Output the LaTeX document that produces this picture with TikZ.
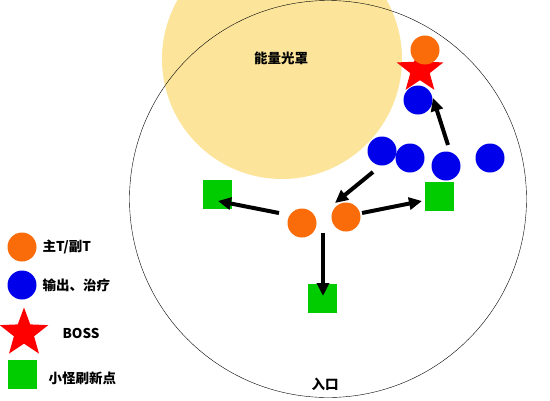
\documentclass[tikz,border=0pt]{standalone}
\usepackage{fontspec}
\setmainfont{Noto Sans CJK SC}
\usetikzlibrary{shapes.geometric,arrows.meta}
\definecolor{orangeT}{RGB}{250,108,10}
\definecolor{blueD}{RGB}{0,0,235}
\definecolor{greenS}{RGB}{0,204,0}
\definecolor{shield}{RGB}{252,229,155}

\begin{document}
\begin{tikzpicture}[x=1pt,y=-1pt,
	tank/.style={circle,fill=orangeT,minimum size=29pt,inner sep=0pt},
	dps/.style={circle,fill=blueD,minimum size=29pt,inner sep=0pt},
	boss/.style={star,star points=5,star point ratio=2.4,fill=red,minimum size=49pt,inner sep=0pt},
	spawn/.style={rectangle,fill=greenS,minimum size=29pt,inner sep=0pt},
	txt/.style={font=\bfseries\fontsize{13.5}{15}\selectfont},
	go/.style={line width=4pt,-{Triangle[length=13pt,width=12pt]}}]
		\clip (0,0) rectangle (550,400) ;
		\fill[white] (0,0) rectangle (550,400) ;

		\fill[shield] (282,59) circle (120) ;
		\draw (328,199) circle (198.5) ;
		\draw (281,58) node[txt] (shieldtext) {能量光罩} ;
		\draw (325,384) node[txt] (entry) {入口} ;

		\draw (420,70) node[boss] (boss) {} ;
		\draw (425,50) node[tank] (tankC) {} ;
		\draw (418,100) node[dps] (dpsA) {} ;
		\draw (382,151) node[dps] (dpsB) {} ;
		\draw (410,158) node[dps] (dpsC) {} ;
		\draw (446,166) node[dps] (dpsD) {} ;
		\draw (490,158) node[dps] (dpsE) {} ;
		\draw (302,223) node[tank] (tankA) {} ;
		\draw (346,217) node[tank] (tankB) {} ;

		\draw (217,194) node[spawn] (spawnL) {} ;
		\draw (439,196) node[spawn] (spawnR) {} ;
		\draw (322,298) node[spawn] (spawnB) {} ;

		\coordinate (goLs) at (279,213) ;
		\coordinate (goLe) at (218,201) ;
		\coordinate (goRs) at (362,213) ;
		\coordinate (goRe) at (422,201) ;
		\coordinate (goMs) at (373,172) ;
		\coordinate (goMe) at (335,203) ;
		\coordinate (goUs) at (448,145) ;
		\coordinate (goUe) at (433,98) ;
		\coordinate (goDs) at (323,233) ;
		\coordinate (goDe) at (323,296) ;
		\draw[go] (goLs) -- (goLe) ;
		\draw[go] (goRs) -- (goRe) ;
		\draw[go] (goMs) -- (goMe) ;
		\draw[go] (goUs) -- (goUe) ;
		\draw[go] (goDs) -- (goDe) ;

		\draw (22,247) node[tank] (keyTank) {} ;
		\draw (39,247) node[txt,right] (keyTankText) {主T/副T} ;
		\draw (22,285) node[dps] (keyDps) {} ;
		\draw (39,285) node[txt,right] (keyDpsText) {输出、治疗} ;
		\draw (24,333) node[boss,minimum size=51pt] (keyBoss) {} ;
		\draw (59,333) node[txt,right] (keyBossText) {BOSS} ;
		\draw (22,374) node[spawn] (keySpawn) {} ;
		\draw (45,378) node[txt,right] (keySpawnText) {小怪刷新点} ;
	\end{tikzpicture}
\end{document}
